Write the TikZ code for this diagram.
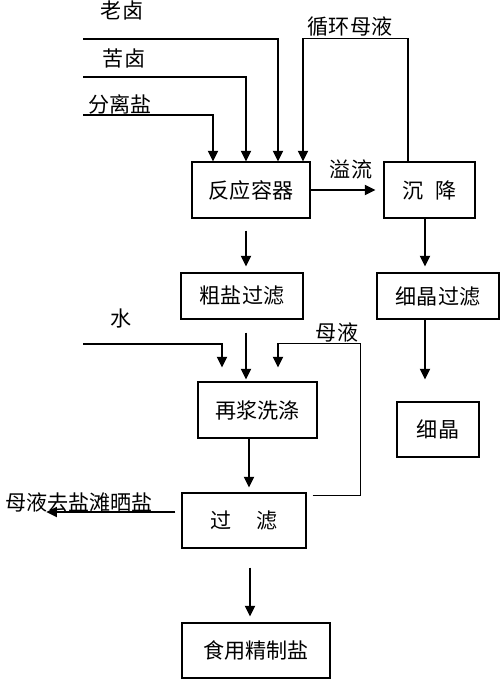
\documentclass[tikz,border=0pt]{standalone}
\usepackage{fontspec}
\setmainfont{Noto Sans CJK SC}
\usetikzlibrary{arrows.meta,calc}
\begin{document}
\begin{tikzpicture}[x=0.02cm,y=-0.02cm,line width=0.7pt,>={Triangle[length=6pt,width=5.8pt]},
  every node/.style={font=\fontsize{12}{14}\selectfont},
  box/.style={draw,inner sep=0pt,minimum height=1.1cm}]
  \useasboundingbox (0,0) rectangle (500,679);
  % boxes
  \node[box,minimum width=2.36cm,minimum height=1.12cm] (R) at (251,190) {反应容器};
  \node[box,minimum width=1.82cm,minimum height=1.12cm] (C) at (429.5,190) {沉\hspace{0.6em}降};
  \node[box,minimum width=2.44cm,minimum height=0.92cm] (Y) at (242,296) {粗盐过滤};
  \node[box,minimum width=2.44cm,minimum height=0.92cm] (X) at (438,296) {细晶过滤};
  \node[box,minimum width=2.38cm,minimum height=1.12cm] (Z) at (257.5,410) {再浆洗涤};
  \node[box,minimum width=1.64cm] (XJ) at (438,429.5) {细晶};
  \node[box,minimum width=2.48cm] (G) at (244,520.5) {过\hspace{1.2em}滤};
  \node[box,minimum width=2.96cm] (S) at (256,650.5) {食用精制盐};
  % labels
  \node (lao) at (122,10) {老卤};
  \node (ku) at (124,58) {苦卤};
  \node (fen) at (120,104) {分离盐};
  \node (xun) at (350,27) {循环母液};
  \node (yi) at (351,169) {溢流};
  \node (shui) at (121,319) {水};
  \node (mu) at (337,332) {母液};
  \node (qu) at (79,502) {母液去盐滩晒盐};
  % feeds
  \coordinate (lao0) at (83,39);
  \coordinate (ku0) at (83,77);
  \coordinate (fen0) at (83,115);
  \coordinate (shui0) at (83,344);
  \draw[->] (lao0) -| ($(R.north)+(27,0)$);
  \draw[->] (ku0) -| ($(R.north)+(-5,0)$);
  \draw[->] (fen0) -| ($(R.north)+(-38,0)$);
  \draw[->] ($(C.north)+(-21.5,0)$) -- ++(0,-123) -| ($(R.north)+(52,0)$);
  \draw[->] (R.east) -- ($(C.west)+(-8,0)$);
  % down the lines
  \draw[->] ($(R.south)+(-5,12)$) -- ($(Y.north)+(4,-6)$);
  \draw[->] ($(C.south)+(-4.5,0)$) -- ($(X.north)+(-13,-6)$);
  \draw[->] ($(X.south)+(-13,0)$) -- ($(XJ.north)+(-13,-22)$);
  \draw[->] ($(Y.south)+(4,13)$) -- ($(Z.north)+(-11.5,-2)$);
  \draw[->] ($(Z.south)+(-8.5,0)$) -- ($(G.north)+(5,-5)$);
  \draw[->] ($(G.south)+(6,19)$) -- ($(S.north)+(-6,-6)$);
  \draw[->] (shui0) -| ($(Z.north)+(-35.5,-14)$);
  \draw[->] ($(G.north east)+(6,3)$) -| ++(48,-152) -| ($(Z.north)+(20.5,-14)$);
  \draw[->] ($(G.west)+(-6,-8.5)$) -- ++(-129,0);
\end{tikzpicture}
\end{document}
